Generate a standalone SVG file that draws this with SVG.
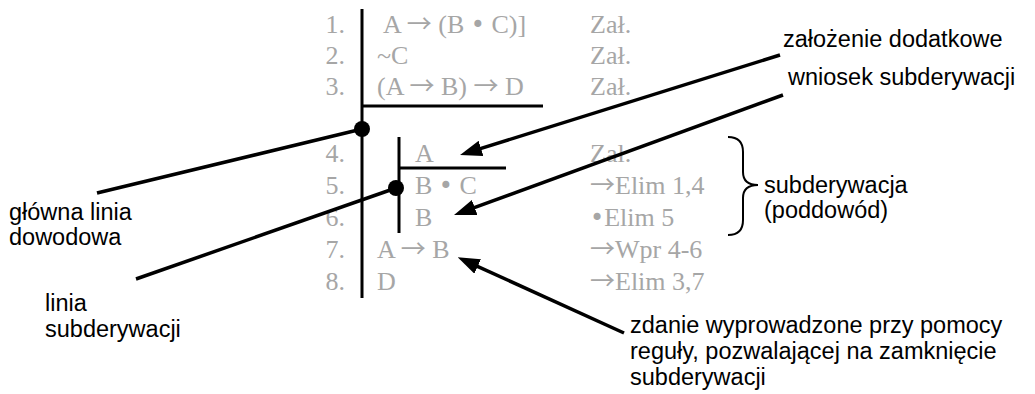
<svg xmlns="http://www.w3.org/2000/svg" width="1035" height="394" viewBox="0 0 1035 394">
<defs>
<style>
.num{font-family:"Liberation Serif",serif;font-size:26px;fill:#a6a6a6;text-anchor:end}
.f{font-family:"Liberation Serif",serif;font-size:26px;fill:#a6a6a6}
.s{font-family:"Noto Sans CJK JP","DejaVu Sans",sans-serif;font-size:25px}
.b{font-family:"DejaVu Sans",sans-serif;font-size:24px}
.lbl{font-family:"Liberation Sans",Arial,sans-serif;font-size:23.5px;fill:#000}
.ln{stroke:#000;stroke-width:3;fill:none}
.conn{stroke:#000;stroke-width:3.5;fill:none}
.arr{stroke:#000;stroke-width:3.5;fill:none;marker-end:url(#ah)}
</style>
<marker id="ah" markerUnits="userSpaceOnUse" viewBox="0 0 22 16" markerWidth="22" markerHeight="16" refX="10" refY="8" orient="auto">
<path d="M0,0 L22,8 L0,16 z" fill="#000"/>
</marker>
</defs>
<rect width="1035" height="394" fill="#fff"/>

<g id="proof">
<g id="main-line">
<line class="ln" x1="362" y1="9" x2="362" y2="298"/>
<line class="ln" x1="362" y1="106" x2="543" y2="106"/>
<circle cx="362" cy="129" r="8" fill="#000"/>
</g>
<g id="sub-line">
<line class="ln" x1="399" y1="137" x2="399" y2="233"/>
<line class="ln" x1="399" y1="168" x2="506" y2="168"/>
<circle cx="396" cy="188" r="8" fill="#000"/>
</g>
<g id="row1"><text class="num" x="345" y="33">1.</text><text class="f" x="383" y="33">A <tspan class="s">→</tspan> (B <tspan class="b">•</tspan> C)]</text><text class="f" x="590" y="33">Zał.</text></g>
<g id="row2"><text class="num" x="345" y="64">2.</text><text class="f" x="377" y="64">~C</text><text class="f" x="590" y="64">Zał.</text></g>
<g id="row3"><text class="num" x="345" y="95">3.</text><text class="f" x="377" y="95">(A <tspan class="s">→</tspan> B) <tspan class="s">→</tspan> D</text><text class="f" x="590" y="95">Zał.</text></g>
<g id="row4"><text class="num" x="345" y="162">4.</text><text class="f" x="415" y="162">A</text><text class="f" x="590" y="162">Zał.</text></g>
<g id="row5"><text class="num" x="345" y="194">5.</text><text class="f" x="415" y="194">B <tspan class="b">•</tspan> C</text><text class="f" x="590" y="194"><tspan class="s">→</tspan>Elim 1,4</text></g>
<g id="row6"><text class="num" x="345" y="226">6.</text><text class="f" x="415" y="226">B</text><text class="f" x="590" y="226"><tspan class="b">•</tspan>Elim 5</text></g>
<g id="row7"><text class="num" x="345" y="258">7.</text><text class="f" x="377" y="258">A <tspan class="s">→</tspan> B</text><text class="f" x="590" y="258"><tspan class="s">→</tspan>Wpr 4-6</text></g>
<g id="row8"><text class="num" x="345" y="290">8.</text><text class="f" x="377" y="290">D</text><text class="f" x="590" y="290"><tspan class="s">→</tspan>Elim 3,7</text></g>
</g>

<g id="label-zalozenie"><text class="lbl" x="783" y="47">założenie dodatkowe</text></g>
<g id="label-wniosek"><text class="lbl" x="788" y="85">wniosek subderywacji</text></g>
<g id="label-glowna"><text class="lbl" x="9" y="220">główna linia</text><text class="lbl" x="9" y="245">dowodowa</text></g>
<g id="label-linia"><text class="lbl" x="45" y="311">linia</text><text class="lbl" x="45" y="337">subderywacji</text></g>
<g id="label-subderywacja">
<path class="ln" style="stroke-width:2" d="M728,137 Q743,137 743,152 L743,172 Q743,185 758,185 Q743,185 743,198 L743,220 Q743,235 728,235"/>
<text class="lbl" x="764" y="193">subderywacja</text><text class="lbl" x="764" y="218">(poddowód)</text>
</g>
<g id="label-zdanie"><text class="lbl" x="630" y="333">zdanie wyprowadzone przy pomocy</text><text class="lbl" x="630" y="359">reguły, pozwalającej na zamknięcie</text><text class="lbl" x="630" y="385">subderywacji</text></g>

<g id="connectors">
<line class="conn" x1="97" y1="193" x2="362" y2="129"/>
<line class="conn" x1="136" y1="279" x2="396" y2="188"/>
<line class="arr" x1="780" y1="55" x2="471.5" y2="151.4"/>
<line class="arr" x1="783" y1="95" x2="465.3" y2="210.9"/>
<line class="arr" x1="624" y1="333" x2="468.6" y2="262.3"/>
</g>
</svg>
